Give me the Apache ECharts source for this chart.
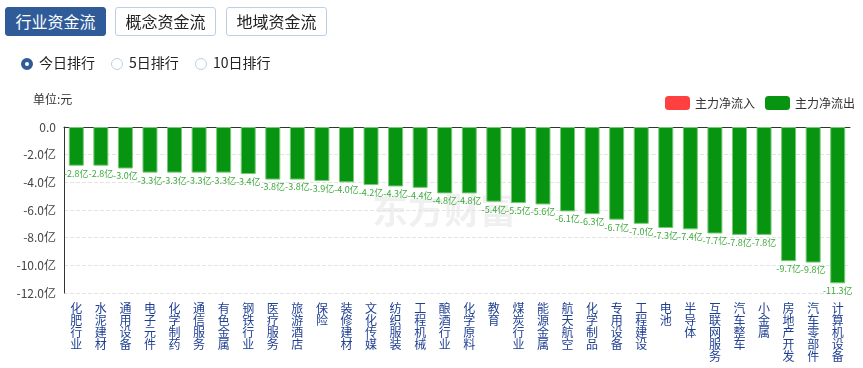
<!DOCTYPE html>
<html><head><meta charset="utf-8">
<script src="https://cdn.jsdelivr.net/npm/echarts@6/dist/echarts.min.js"></script>
<style>
html,body{margin:0;padding:0;background:#fff;width:863px;height:368px;overflow:hidden;font-family:"Noto Sans CJK SC","Microsoft YaHei",sans-serif;}
#chart{position:absolute;left:0;top:0;width:863px;height:368px;}
.btn{position:absolute;top:7px;height:29px;width:101px;box-sizing:border-box;border:1px solid #b9d0e8;border-radius:3px;background:#fff;color:#222;font-size:16px;line-height:27px;text-align:center;}
.btn.on{background:#2f5b99;border-color:#2f5b99;color:#fff;}
.radio{position:absolute;top:52px;font-size:14px;color:#222;line-height:20px;}
.radio i{display:inline-block;width:12px;height:12px;border:1px solid #b9d0e8;border-radius:50%;vertical-align:-2px;margin-right:6px;box-sizing:border-box;}
.radio i.on{border:4px solid #2f5b99;}
.unit{position:absolute;left:33px;top:90px;font-size:12px;color:#333;}
</style>
</head><body>
<div id="chart"></div>
<div class="btn on" style="left:5px">行业资金流</div>
<div class="btn" style="left:115px">概念资金流</div>
<div class="btn" style="left:226px">地域资金流</div>
<div class="radio" style="left:21px"><i class="on"></i>今日排行</div>
<div class="radio" style="left:111px"><i></i>5日排行</div>
<div class="radio" style="left:195px"><i></i>10日排行</div>
<div class="unit">单位:元</div>
<script>
var categories = ['化肥行业','水泥建材','通用设备','电子元件','化学制药','通信服务','有色金属','钢铁行业','医疗服务','旅游酒店','保险','装修建材','文化传媒','纺织服装','工程机械','酿酒行业','化学原料','教育','煤炭行业','能源金属','航天航空','化学制品','专用设备','工程建设','电池','半导体','互联网服务','汽车整车','小金属','房地产开发','汽车零部件','计算机设备'];
var inflow = [];
var outflow = [-2.8,-2.8,-3.0,-3.3,-3.3,-3.3,-3.3,-3.4,-3.8,-3.8,-3.9,-4.0,-4.2,-4.3,-4.4,-4.8,-4.8,-5.4,-5.5,-5.6,-6.1,-6.3,-6.7,-7.0,-7.3,-7.4,-7.7,-7.8,-7.8,-9.7,-9.8,-11.3];

var chart = echarts.init(document.getElementById('chart'));
var font = '"Noto Sans CJK SC","Microsoft YaHei",sans-serif';
chart.setOption({
  animation:false,
  textStyle:{fontFamily:font},
  legend:{
    right:3, top:91, itemWidth:25, itemHeight:14, itemGap:10,
    textStyle:{fontSize:12,color:'#333',fontFamily:font},
    itemStyle:{borderWidth:0},
    data:[{name:'主力净流入',itemStyle:{color:'#ff4040',borderWidth:0}},{name:'主力净流出',itemStyle:{color:'#079410',borderWidth:0}}]
  },
  grid:{left:64,right:13,top:127,bottom:75},
  graphic:[{
    type:'text', left:372, top:192, z:0,
    style:{text:'东方财富', fontSize:36, fontWeight:'bold', fill:'rgba(0,0,0,0.06)', fontFamily:font}
  }],
  xAxis:[{
    type:'category', data:categories, position:'top',
    axisLine:{show:true,lineStyle:{color:'#333'}},axisTick:{show:false},axisLabel:{show:false}
  },{
    type:'category', data:categories, position:'bottom',
    axisLine:{show:false},axisTick:{show:false},
    axisLabel:{interval:0,margin:9,fontSize:12,lineHeight:12,color:'#1f3f92',verticalAlign:'top',
      formatter:function(v){return v.split('').join('\n');}}
  }],
  yAxis:{
    type:'value', min:-12, max:0, interval:2,
    axisLine:{show:true,lineStyle:{color:'#333'}},
    axisTick:{show:false},
    splitLine:{lineStyle:{type:'dashed',color:'#e4e4e4'}},
    axisLabel:{fontSize:12,color:'#444',margin:8,formatter:function(v){return v===0?'0.0':v.toFixed(1)+'亿';}}
  },
  series:[
    {name:'主力净流入',type:'bar',data:inflow,barWidth:15,itemStyle:{color:'#ff4040'}},
    {name:'主力净流出',type:'bar',data:outflow,barWidth:15,barGap:'-100%',
     itemStyle:{color:'#079410',borderColor:'#79c979',borderWidth:1},
     label:{show:true,position:'bottom',distance:3,fontSize:9,color:'#3daa3d',formatter:function(p){return p.value.toFixed(1)+'亿';}}}
  ]
});
</script>
</body></html>
